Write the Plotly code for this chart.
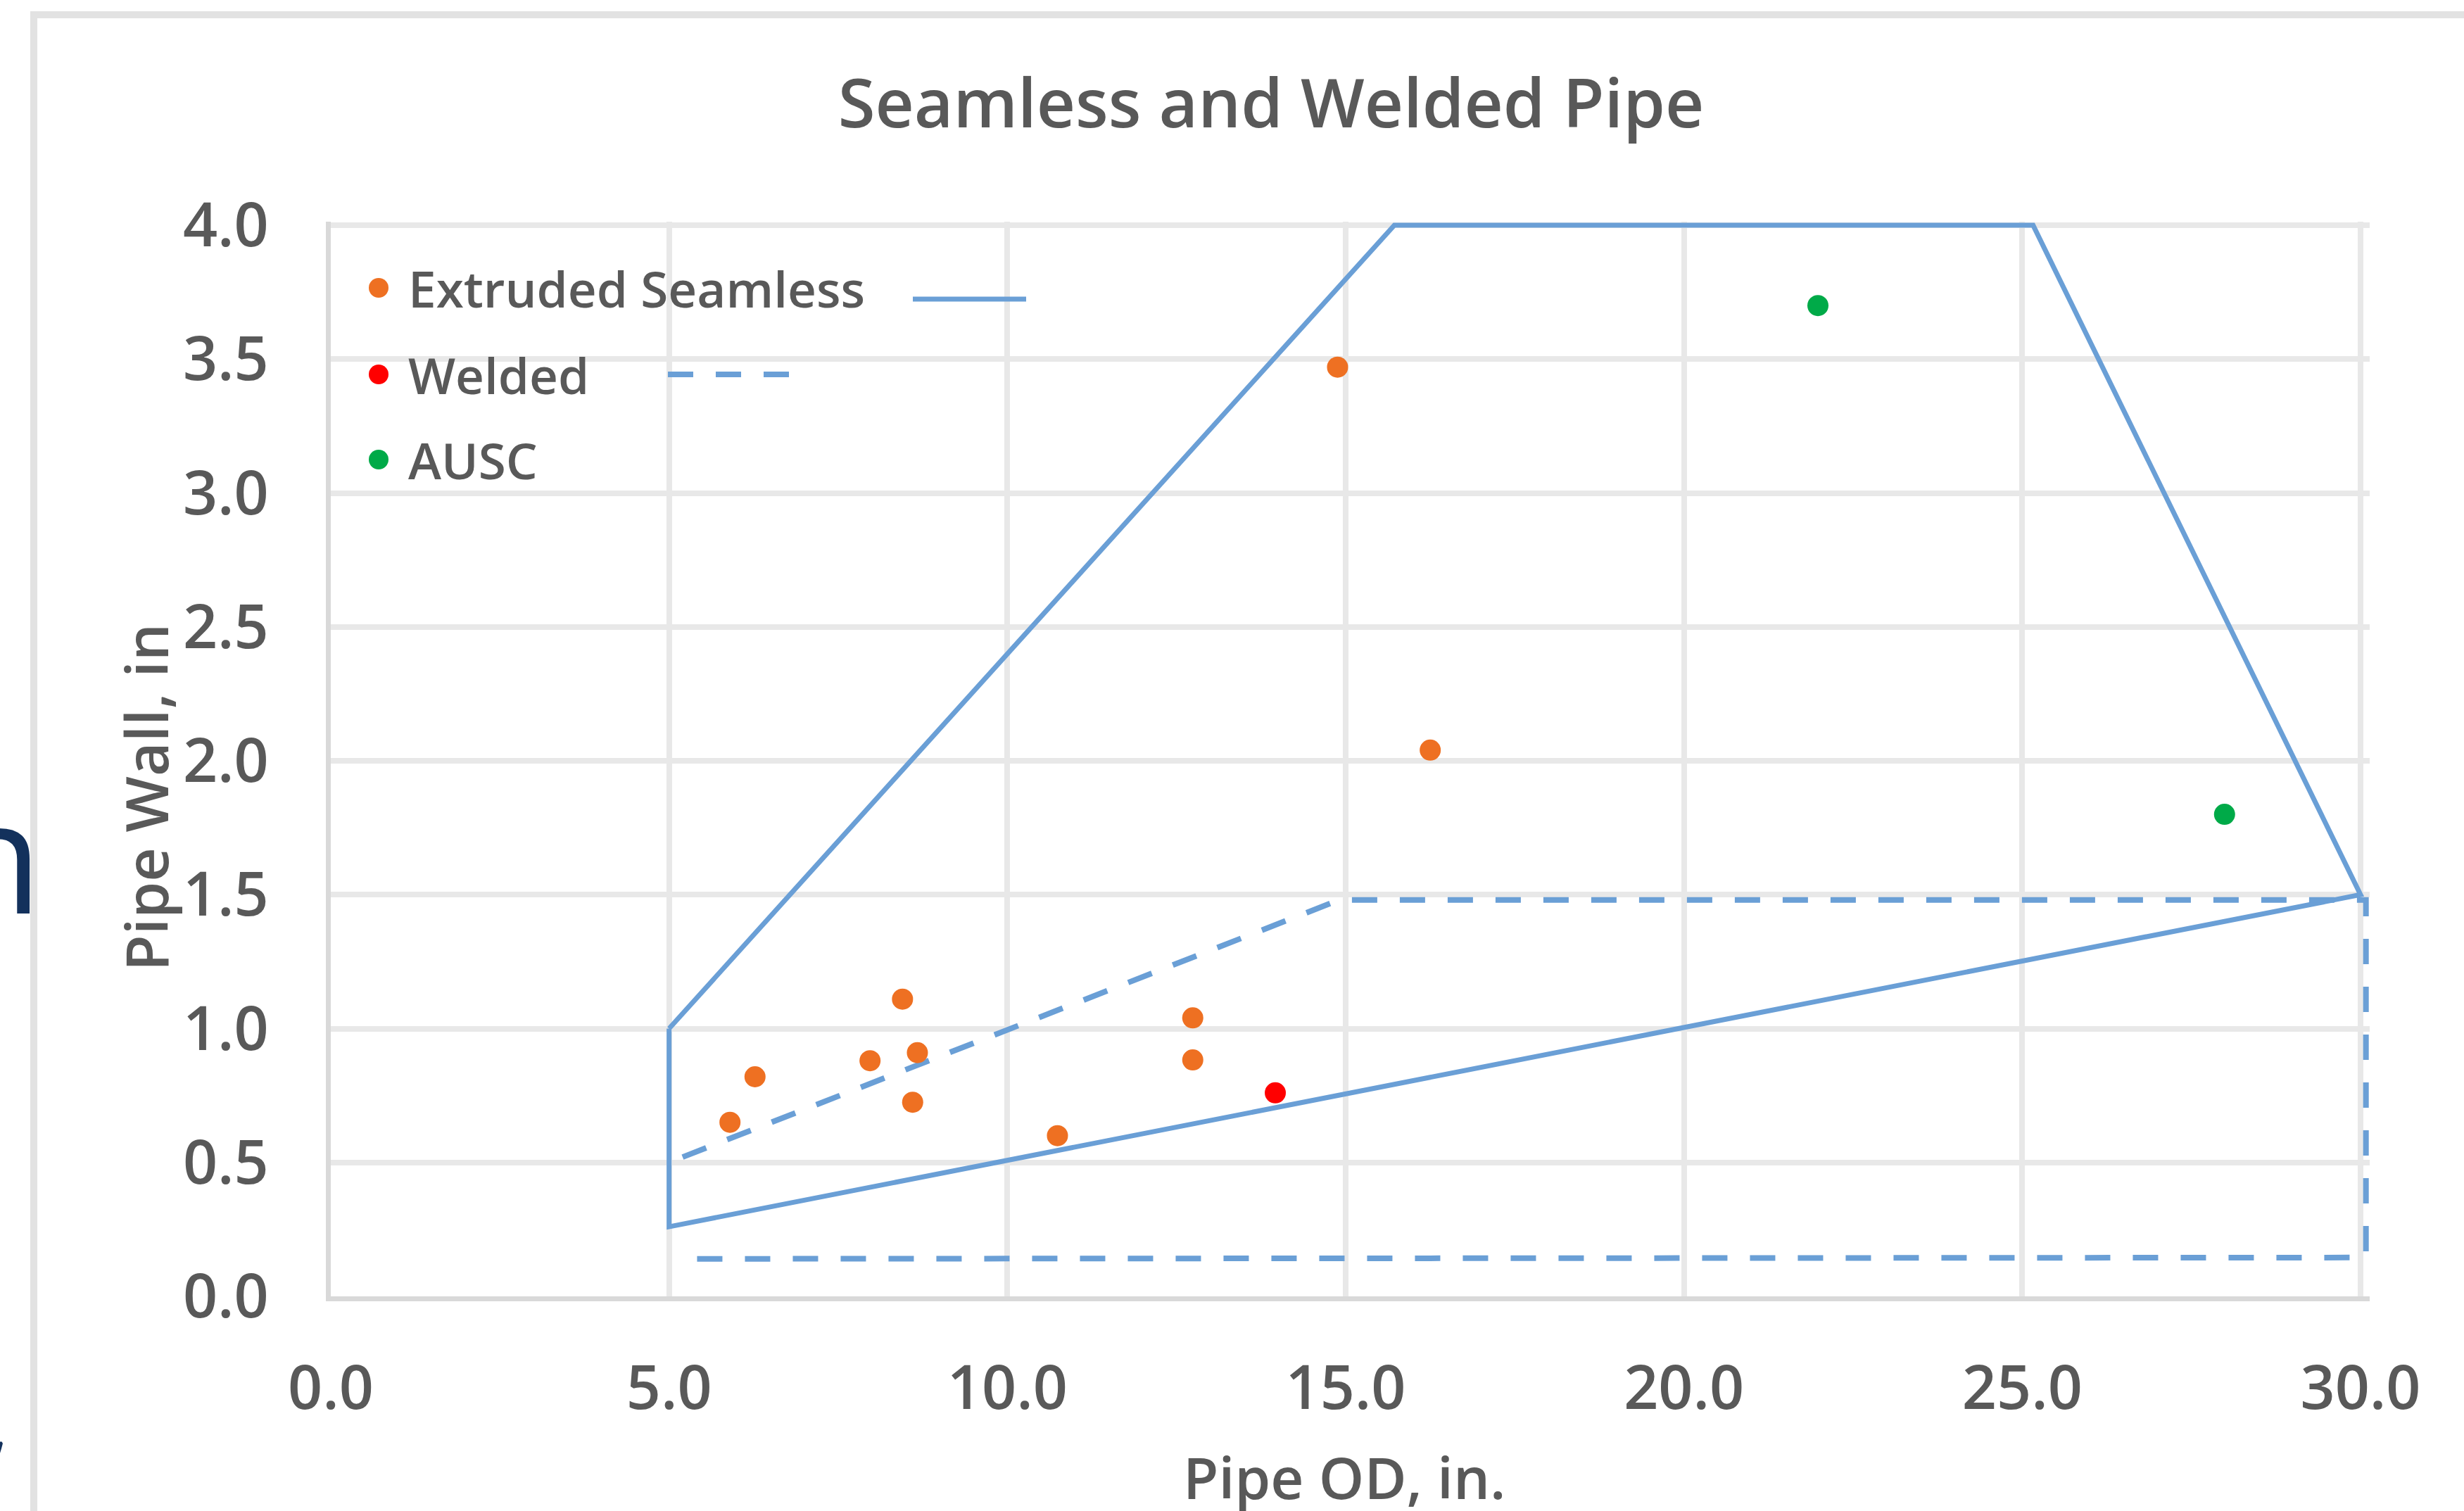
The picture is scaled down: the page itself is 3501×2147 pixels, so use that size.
import plotly.graph_objects as go

# ---------------- data ----------------
seamless_x = [5.90, 6.27, 7.97, 8.45, 8.67, 8.60, 10.74, 12.74, 12.74, 14.88, 16.25]
seamless_y = [0.65, 0.82, 0.88, 1.11, 0.91, 0.725, 0.60, 1.04, 0.883, 3.47, 2.04]
welded_x = [13.96]
welded_y = [0.76]
ausc_x = [21.98, 27.99]
ausc_y = [3.70, 1.80]

seamless_env_x = [5.0, 15.72, 25.16, 30.0, 5.0, 5.0]
seamless_env_y = [1.0, 4.0, 4.0, 1.5, 0.26, 1.0]
welded_env_x = [5.2, 14.9, 30.08, 30.08, 5.15]
welded_env_y = [0.52, 1.48, 1.48, 0.145, 0.14]

x_ticks = [0, 5, 10, 15, 20, 25, 30]
y_ticks = [0, 0.5, 1.0, 1.5, 2.0, 2.5, 3.0, 3.5, 4.0]

TITLE = "Seamless and Welded Pipe"
X_TITLE = "Pipe OD, in."
Y_TITLE = "Pipe Wall, in"
legend_names = ["Extruded Seamless", "Welded", "AUSC"]

# ---------------- style ----------------
W, H = 3501, 2147
ML, MR, MT, MB = 470, 134, 315, 305
PW, PH = W - ML - MR, H - MT - MB
XMAX = PW / (2884 / 30.0)
YMAX = PH / (1522 / 4.0)

FONT = "Open Sans"
WT = 600
GREY = "#595959"
LINE_BLUE = "#6A9FD6"
ORANGE = "#EE7022"
RED = "#FF0000"
GREEN = "#00AA48"
MS = 30


def px(xp):
    return (xp - ML) / PW


def py(yp):
    return (H - MB - yp) / PH


fig = go.Figure()

fig.add_trace(go.Scatter(x=seamless_env_x, y=seamless_env_y, mode="lines",
                         line=dict(color=LINE_BLUE, width=7), showlegend=False,
                         name="Seamless range", hoverinfo="skip"))
fig.add_trace(go.Scatter(x=welded_env_x, y=welded_env_y, mode="lines",
                         line=dict(color=LINE_BLUE, width=8, dash="36px,32px"),
                         showlegend=False, name="Welded range", hoverinfo="skip"))
fig.add_trace(go.Scatter(x=seamless_x, y=seamless_y, mode="markers", name=legend_names[0],
                         marker=dict(color=ORANGE, size=MS), showlegend=False))
fig.add_trace(go.Scatter(x=welded_x, y=welded_y, mode="markers", name=legend_names[1],
                         marker=dict(color=RED, size=MS), showlegend=False))
fig.add_trace(go.Scatter(x=ausc_x, y=ausc_y, mode="markers", name=legend_names[2],
                         marker=dict(color=GREEN, size=MS), showlegend=False))

axis_common = dict(
    showgrid=True, gridcolor="#E8E8E8", gridwidth=8,
    showline=True, linecolor="#D9D9D9", linewidth=7,
    zeroline=False, ticks="",
    tickfont=dict(family=FONT, size=86, color=GREY, weight=WT),
    tickformat=".1f",
)

fig.update_layout(
    width=W, height=H,
    margin=dict(l=ML, r=MR, t=MT, b=MB, autoexpand=False),
    paper_bgcolor="white", plot_bgcolor="white",
    showlegend=False,
    title=dict(text=TITLE, x=1806 / W, y=1 - 147 / H, xref="container", yref="container",
               xanchor="center", yanchor="middle",
               font=dict(family=FONT, size=96, color=GREY, weight=WT)),
    xaxis=dict(range=[0, XMAX], tickvals=x_ticks, ticklabelstandoff=50, **axis_common),
    yaxis=dict(range=[0, YMAX], tickvals=y_ticks, ticklabelstandoff=64, **axis_common),
)

annotations = [
    dict(text=X_TITLE, x=px(1910), y=py(2098), xref="paper", yref="paper",
         xanchor="center", yanchor="middle", showarrow=False,
         font=dict(family=FONT, size=82, color=GREY, weight=WT)),
    dict(text=Y_TITLE, x=px(206), y=py(1133), xref="paper", yref="paper",
         xanchor="center", yanchor="middle", showarrow=False, textangle=-90,
         font=dict(family=FONT, size=84, color=GREY, weight=WT)),
    # stray slide text cut by the crop
    dict(text="n", x=px(62), y=py(1212), xref="paper", yref="paper",
         xanchor="right", yanchor="middle", showarrow=False,
         font=dict(family=FONT, size=222, color="#13315C")),
    dict(text=",", x=px(22), y=py(1988), xref="paper", yref="paper",
         xanchor="right", yanchor="middle", showarrow=False,
         font=dict(family=FONT, size=222, color="#13315C")),
]

# manual legend
leg_rows = [409, 532, 653]
leg_colors = [ORANGE, RED, GREEN]
shapes = []
for name, yc, col in zip(legend_names, leg_rows, leg_colors):
    annotations.append(dict(text=name, x=px(578), y=py(yc), xref="paper", yref="paper",
                            xanchor="left", yanchor="middle", showarrow=False,
                            font=dict(family=FONT, size=71, color=GREY, weight=WT)))
    shapes.append(dict(type="circle", xref="paper", yref="paper",
                       xsizemode="pixel", ysizemode="pixel",
                       xanchor=px(538), yanchor=py(yc),
                       x0=-14, x1=14, y0=-14, y1=14,
                       fillcolor=col, line=dict(width=0)))
shapes.append(dict(type="line", xref="paper", yref="paper",
                   x0=px(1297), x1=px(1458), y0=py(425), y1=py(425),
                   line=dict(color=LINE_BLUE, width=7)))
shapes.append(dict(type="line", xref="paper", yref="paper",
                   x0=px(949), x1=px(1137), y0=py(532), y1=py(532),
                   line=dict(color=LINE_BLUE, width=8, dash="36px,32px")))
# chart frame (top and left edges visible)
shapes.append(dict(type="line", xref="paper", yref="paper",
                   x0=px(43), x1=px(W + 20), y0=py(21), y1=py(21),
                   line=dict(color="#E2E2E2", width=10)))
shapes.append(dict(type="line", xref="paper", yref="paper",
                   x0=px(48), x1=px(48), y0=py(16), y1=py(H + 20),
                   line=dict(color="#E2E2E2", width=10)))

fig.update_layout(annotations=annotations, shapes=shapes)

fig.write_html("out.html")
